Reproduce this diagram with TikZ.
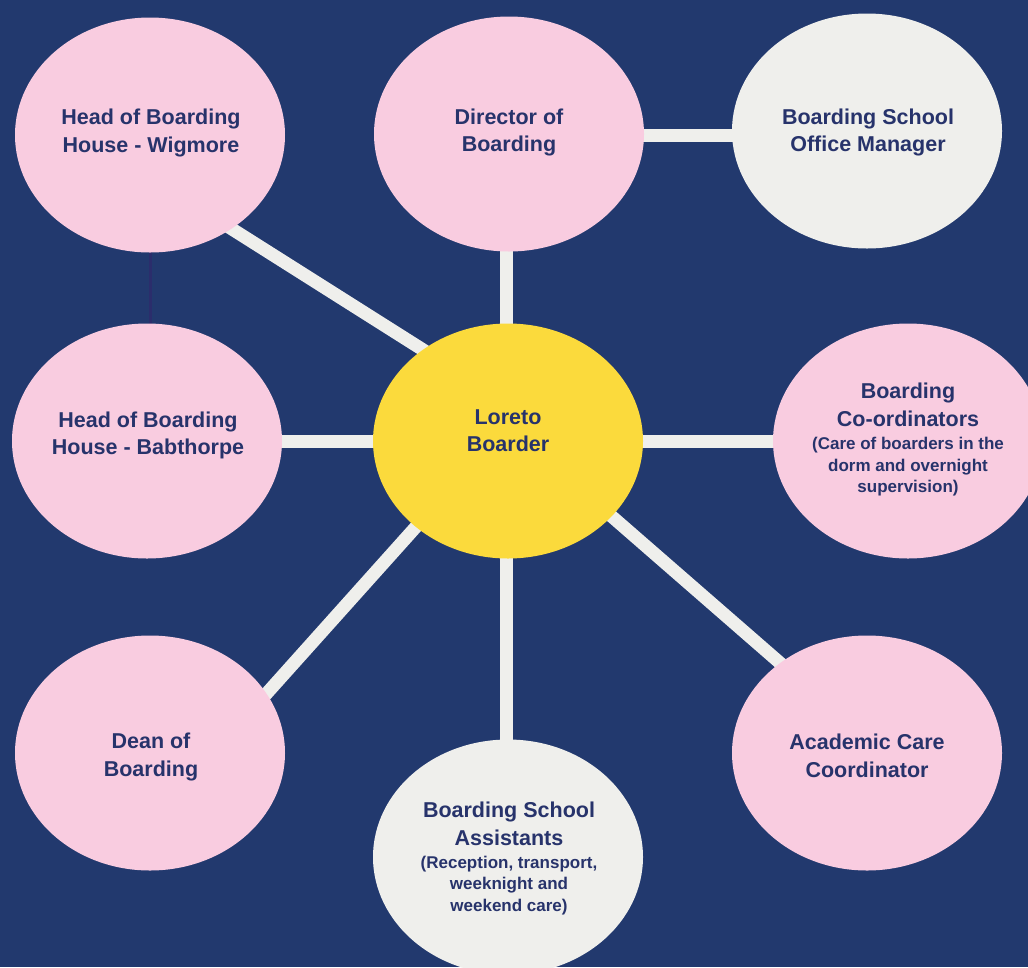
\documentclass[tikz,border=0pt]{standalone}
\usepackage{fontspec}
\setmainfont{Liberation Sans}
\usetikzlibrary{shapes.geometric}
\definecolor{bgblue}{HTML}{22396E}
\definecolor{pinkfill}{HTML}{F9CCE0}
\definecolor{yellowfill}{HTML}{FBDA3C}
\definecolor{greyfill}{HTML}{EFEFEC}
\definecolor{navytext}{HTML}{27336B}
\definecolor{thinline}{HTML}{2B2D6C}
\pgfdeclarelayer{bg}
\pgfdeclarelayer{edges}
\pgfsetlayers{bg,edges,main}
\tikzset{
  bubble/.style={ellipse, minimum width=270pt, minimum height=235pt, inner sep=0pt, outer sep=0pt, draw=none},
  pinkel/.style={bubble, fill=pinkfill},
  greyel/.style={bubble, fill=greyfill},
  yellowel/.style={bubble, fill=yellowfill},
  bigtxt/.style={align=center, text=navytext, inner sep=0pt, font=\fontsize{21.5}{27.5}\selectfont\bfseries},
  smalltxt/.style={align=center, text=navytext, inner sep=0pt, font=\fontsize{17}{21.5}\selectfont\bfseries},
  conn/.style={line width=13pt, draw=greyfill, shorten <=-20pt, shorten >=-20pt},
  thin/.style={line width=3pt, draw=thinline}
}
\begin{document}
\begin{tikzpicture}[x=1pt,y=-1pt]
\useasboundingbox (0,0) rectangle (1028,967);
\begin{pgfonlayer}{bg}
\fill[bgblue] (0,0) rectangle (1028,967);
\end{pgfonlayer}
\clip (0,0) rectangle (1028,967);

\node[pinkel]   (wig)  at (150,135) {};
\node[pinkel]   (dir)  at (509,134) {};
\node[greyel]   (off)  at (867,131) {};
\node[pinkel]   (bab)  at (147,441) {};
\node[yellowel] (lor)  at (508,441) {};
\node[pinkel]   (coo)  at (908,441) {};
\node[pinkel]   (dean) at (150,753) {};
\node[greyel]   (asst) at (508,857) {};
\node[pinkel]   (acad) at (867,753) {};

\node[bigtxt] (wigt) at (151,133) {Head of Boarding\\House - Wigmore};
\node[bigtxt] (dirt) at (509,132.5) {Director of\\Boarding};
\node[bigtxt] (offt) at (868,132.5) {Boarding School\\Office Manager};
\node[bigtxt] (babt) at (148,435.5) {Head of Boarding\\House - Babthorpe};
\node[bigtxt] (lort) at (508,430.5) {Loreto\\Boarder};
\node[bigtxt] (coot) at (908,405) {Boarding\\Co-ordinators};
\node[smalltxt] (coos) at (908,467) {(Care of boarders in the\\dorm and overnight\\supervision)};
\node[bigtxt] (deant) at (151,757) {Dean of\\Boarding};
\node[bigtxt] (asstt) at (509,824) {Boarding School\\Assistants};
\node[smalltxt] (assts) at (509,885.5) {(Reception, transport,\\weeknight and\\weekend care)};
\node[bigtxt] (acadt) at (867,756) {Academic Care\\Coordinator};

\begin{pgfonlayer}{edges}
\draw[thin] (wig.center) -- (wig.center |- bab.center);
\draw[conn] (wig.-49) -- (lor.133);
\draw[conn] (lor.-137) -- (dean.27);
\draw[conn] (lor.-36.5) -- (acad.134.4);
\draw[conn, shorten <=0pt, shorten >=0pt] ([xshift=-2pt]lor.center) -- ([xshift=-2pt]lor.center |- dir.center);
\draw[conn, shorten <=0pt, shorten >=0pt] ([xshift=-2pt]lor.center) -- ([xshift=-2pt]lor.center |- asst.center);
\draw[conn, shorten <=0pt, shorten >=0pt] ([yshift=-1pt]dir.center) -- ([yshift=-1pt]off.center |- dir.center);
\draw[conn, shorten <=0pt, shorten >=0pt] (bab.center) -- (coo.center);
\end{pgfonlayer}
\end{tikzpicture}
\end{document}
